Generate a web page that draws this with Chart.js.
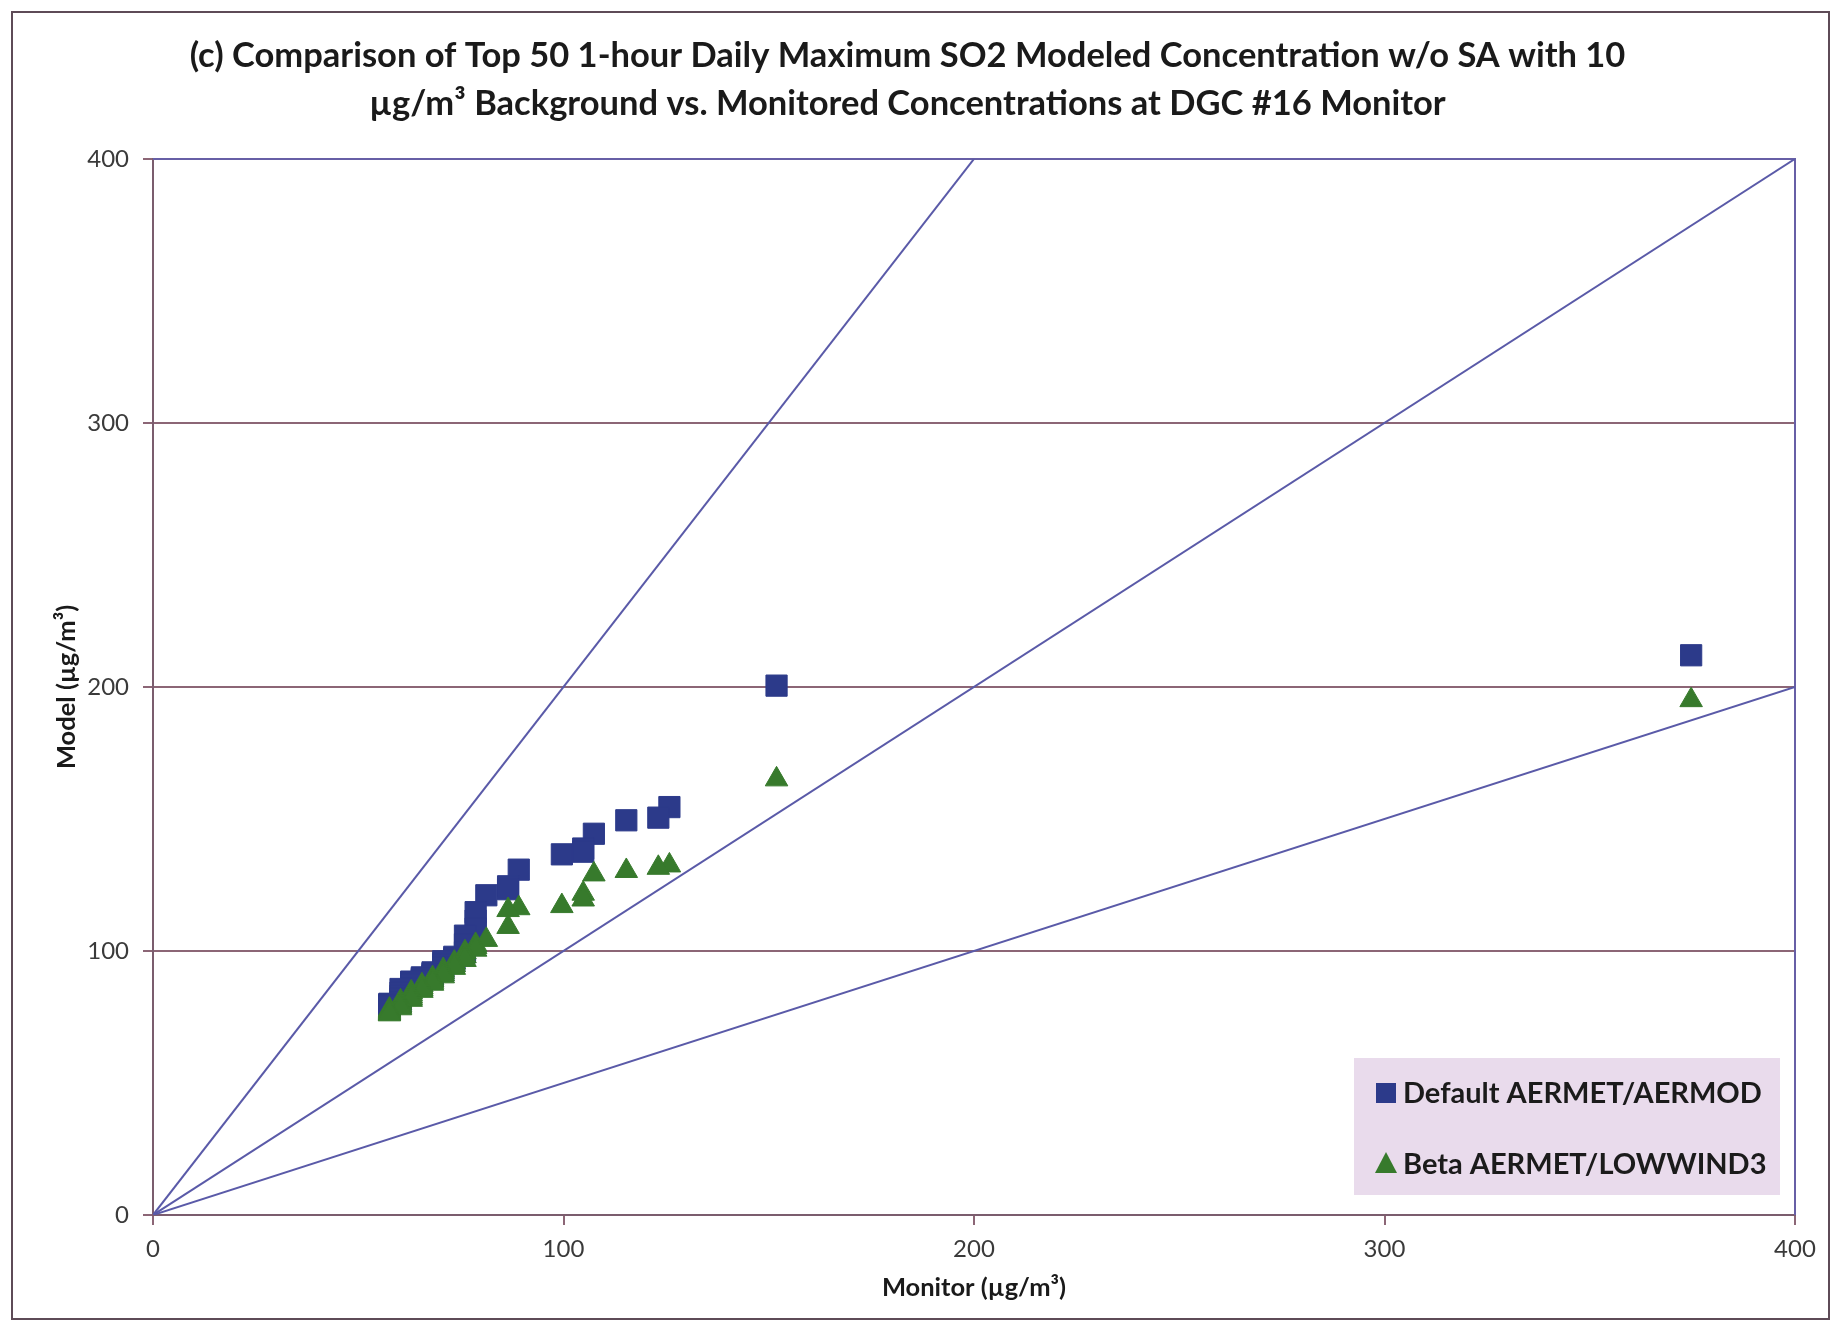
<!DOCTYPE html>
<html>
<head>
<meta charset="utf-8">
<title>Top 50 SO2 - DGC #16</title>
<script src="https://cdn.jsdelivr.net/npm/chart.js@4.4.0/dist/chart.umd.min.js"></script>
<style>
  html, body { margin: 0; padding: 0; background: #fff; }
  #wrap { width: 1833px; height: 1333px; }
</style>
</head>
<body>
<div id="wrap"><canvas id="chart" width="1833" height="1333"></canvas></div>
<script>
// Top 50 daily max values, ranked high to low (Q-Q pairing)
// monitor values come in 1 ppb steps (~2.62 ug/m3)
const monitor = [
    374.7, 151.9, 125.8, 123.1, 115.3, 107.4, 104.8, 104.8, 99.6, 89.1,
    86.5, 86.5, 81.2, 78.6, 78.6, 78.6, 76.0, 76.0, 76.0, 73.4,
    73.4, 73.4, 70.7, 70.7, 70.7, 70.7, 68.1, 68.1, 68.1, 68.1,
    65.5, 65.5, 65.5, 65.5, 62.9, 62.9, 62.9, 62.9, 62.9, 60.3,
    60.3, 60.3, 60.3, 60.3, 57.6, 57.6, 57.6, 57.6, 57.6, 57.6
];
const modelDefault = [
    212.0, 200.5, 154.5, 150.5, 149.5, 144.4, 138.8, 137.6, 136.6, 130.8,
    124.5, 123.4, 121.1, 114.7, 111.5, 108.5, 105.8, 102.5, 99.5, 97.8,
    97.2, 96.5, 96.1, 95.0, 93.8, 92.5, 91.9, 91.4, 90.8, 90.3,
    90.0, 89.6, 89.2, 88.7, 88.4, 87.9, 87.3, 86.5, 85.8, 85.6,
    84.2, 83.0, 81.8, 80.5, 80.0, 79.8, 79.6, 79.4, 79.2, 79.0
];
const modelBeta = [
    195.0, 165.0, 132.4, 131.5, 130.3, 129.0, 121.7, 119.5, 117.0, 116.2,
    115.5, 109.1, 104.2, 102.3, 101.5, 100.5, 99.5, 98.0, 96.6, 95.6,
    94.6, 93.6, 92.8, 92.0, 91.2, 90.4, 89.7, 89.0, 88.3, 87.6,
    87.0, 86.3, 85.6, 84.9, 84.3, 83.6, 82.9, 82.2, 81.5, 80.9,
    80.2, 79.5, 78.9, 78.3, 77.8, 77.4, 77.0, 76.6, 76.3, 76.0
];

// reference lines through the origin: 2:1, 1:1, 1:2
const line2to1 = [[0, 0], [200, 400]];
const line1to1 = [[0, 0], [400, 400]];
const line1to2 = [[0, 0], [400, 200]];

const axisTicks = [0, 100, 200, 300, 400];
const seriesNames = ['Default AERMET/AERMOD', 'Beta AERMET/LOWWIND3'];
const titleLines = [
    '(c) Comparison of Top 50 1-hour Daily Maximum SO2 Modeled Concentration w/o SA with 10',
    'µg/m³ Background vs. Monitored Concentrations at DGC #16 Monitor'
];

const FONT = 'Lato, "Open Sans", sans-serif';
const NAVY = '#2c3a8a';
const GREEN = '#377a2c';
const REF_LINE = '#5a5aa8';
const GRID = '#8c6676';

const toPoints = (xs, ys) => xs.map((x, i) => ({ x: x, y: ys[i] }));
const toLine = (pair) => pair.map(p => ({ x: p[0], y: p[1] }));

function refLine(pair) {
    return {
        type: 'line',
        data: toLine(pair),
        borderColor: REF_LINE,
        borderWidth: 2,
        pointRadius: 0,
        fill: false,
        order: 2
    };
}

// white page + thin frame round the whole chart
const pageFrame = {
    id: 'pageFrame',
    beforeDraw(chart) {
        const { ctx, width, height } = chart;
        ctx.save();
        ctx.fillStyle = '#fff';
        ctx.fillRect(0, 0, width, height);
        ctx.strokeStyle = '#5e4b57';
        ctx.lineWidth = 2;
        ctx.strokeRect(12, 12, width - 16, height - 26);
        ctx.restore();
    }
};

// top and right edges of the plot area
const plotEdges = {
    id: 'plotEdges',
    beforeDatasetsDraw(chart) {
        const { ctx, chartArea: a } = chart;
        ctx.save();
        ctx.strokeStyle = '#675fa6';
        ctx.lineWidth = 2;
        ctx.beginPath();
        ctx.moveTo(a.left, a.top);
        ctx.lineTo(a.right, a.top);
        ctx.lineTo(a.right, a.bottom);
        ctx.stroke();
        ctx.restore();
    }
};

// legend drawn as a shaded box inside the plot, lower right
const boxLegend = {
    id: 'boxLegend',
    afterDatasetsDraw(chart) {
        const { ctx, chartArea: a } = chart;
        const w = 426, h = 137;
        const x = a.right - 15 - w;
        const y = a.bottom - 20 - h;
        ctx.save();
        ctx.fillStyle = '#e9dbec';
        ctx.fillRect(x, y, w, h);
        const items = chart.data.datasets.filter(d => d.inLegend);
        items.forEach((d, i) => {
            const cy = y + 35 + i * 71;
            const mx = x + 32;
            ctx.fillStyle = d.backgroundColor;
            if (d.pointStyle === 'rect') {
                ctx.fillRect(mx - 10, cy - 10, 20, 20);
            } else {
                ctx.beginPath();
                ctx.moveTo(mx, cy - 12);
                ctx.lineTo(mx + 11, cy + 9);
                ctx.lineTo(mx - 11, cy + 9);
                ctx.closePath();
                ctx.fill();
            }
            ctx.fillStyle = '#1b1b1b';
            ctx.font = 'bold 29px ' + FONT;
            ctx.textAlign = 'left';
            ctx.textBaseline = 'middle';
            ctx.fillText(d.label, x + 49, cy + 1);
        });
        ctx.restore();
    }
};

const ctx = document.getElementById('chart');
new Chart(ctx, {
    data: {
        datasets: [
            {
                type: 'scatter',
                label: seriesNames[0],
                data: toPoints(monitor, modelDefault),
                pointStyle: 'rect',
                pointRadius: 15,
                pointHoverRadius: 15,
                backgroundColor: NAVY,
                borderColor: NAVY,
                borderWidth: 1,
                inLegend: true,
                order: 1
            },
            {
                type: 'scatter',
                label: seriesNames[1],
                data: toPoints(monitor, modelBeta),
                pointStyle: 'triangle',
                pointRadius: 13,
                pointHoverRadius: 13,
                backgroundColor: GREEN,
                borderColor: GREEN,
                borderWidth: 1,
                inLegend: true,
                order: 0
            },
            refLine(line2to1),
            refLine(line1to1),
            refLine(line1to2)
        ]
    },
    options: {
        responsive: false,
        animation: false,
        devicePixelRatio: 1,
        layout: { padding: { left: 20, right: 38, top: 10, bottom: 10 } },
        plugins: {
            legend: { display: false },
            tooltip: { enabled: false },
            title: {
                display: true,
                text: titleLines,
                color: '#1a1a1a',
                font: { family: FONT, size: 34.5, weight: 'bold', lineHeight: 1.39 },
                padding: { top: 22, bottom: 31 }
            }
        },
        scales: {
            x: {
                type: 'linear',
                min: 0,
                max: 400,
                afterBuildTicks: (s) => { s.ticks = axisTicks.map(v => ({ value: v })); },
                afterFit: (s) => { s.height = 108; },
                grid: { drawOnChartArea: false, drawTicks: true, tickLength: 10, color: GRID, lineWidth: 2 },
                border: { color: '#7b5d6e', width: 2 },
                ticks: { color: '#3a3a3a', padding: 10, font: { family: FONT, size: 24 } },
                title: {
                    display: true,
                    text: 'Monitor (µg/m³)',
                    color: '#1a1a1a',
                    font: { family: FONT, size: 25.5, weight: 'bold' },
                    padding: { top: 0, bottom: 20 }
                }
            },
            y: {
                type: 'linear',
                min: 0,
                max: 400,
                afterBuildTicks: (s) => { s.ticks = axisTicks.map(v => ({ value: v })); },
                afterFit: (s) => { s.width = 133; },
                grid: { drawOnChartArea: true, drawTicks: true, tickLength: 10, color: GRID, lineWidth: 2 },
                border: { color: '#7b5d6e', width: 2 },
                ticks: { color: '#3a3a3a', padding: 14, font: { family: FONT, size: 24 } },
                title: {
                    display: true,
                    text: 'Model (µg/m³)',
                    color: '#1a1a1a',
                    font: { family: FONT, size: 25.5, weight: 'bold' },
                    padding: { top: 31, bottom: 0 }
                }
            }
        }
    },
    plugins: [pageFrame, plotEdges, boxLegend]
});
</script>
</body>
</html>
